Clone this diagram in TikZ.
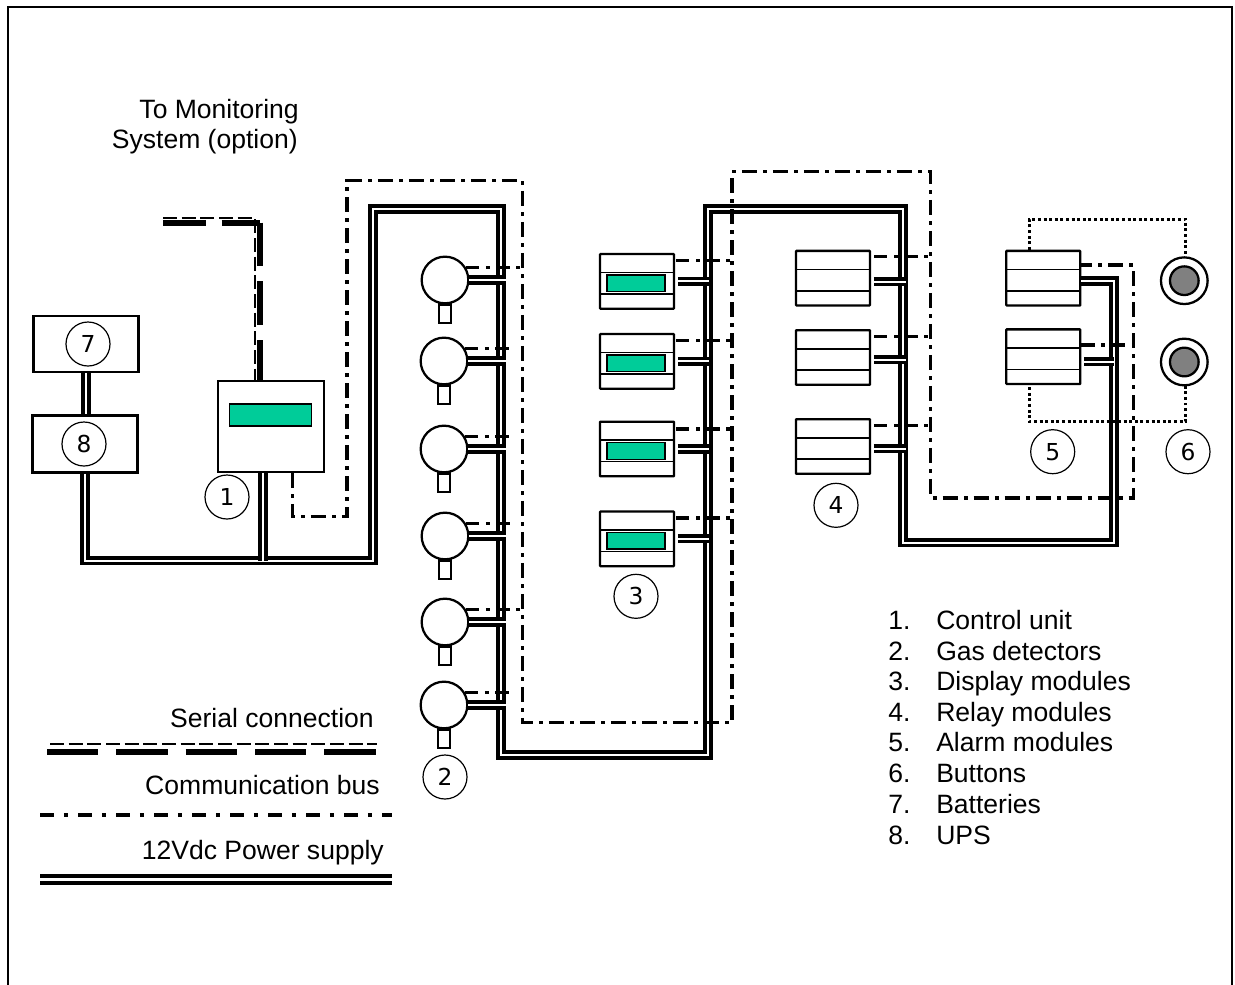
\documentclass[tikz,border=0pt]{standalone}
\usepackage{fontspec}
\setmainfont{Liberation Sans}
\newfontfamily\numfont{DejaVu Sans}
\definecolor{screengreen}{RGB}{0, 204, 153}
\definecolor{buttongray}{RGB}{128, 128, 128}
\usetikzlibrary{positioning, calc}
\tikzset{
	label/.style={inner sep=0pt, font=\fontsize{19.9pt}{24pt}\selectfont},
	leftlabel/.style={label, anchor=base east},
	listlabel/.style={label, anchor=base west},
	numcircle/.style={circle, draw, line width=0.9pt, inner sep=0pt, minimum size=33pt, font=\numfont\fontsize{17.5pt}{20pt}\selectfont},
	powerbox/.style={rectangle, draw, line width=1.9pt, inner sep=0pt, minimum width=79pt, minimum height=42pt},
	unitbox/.style={rectangle, draw, line width=1.7pt, inner sep=0pt, minimum width=79.5pt, minimum height=68pt},
	screen/.style={rectangle, draw, fill=screengreen, line width=1.1pt, inner sep=0pt},
	detector/.style={circle, draw, fill=white, line width=1.7pt, inner sep=0pt, minimum size=35pt},
	stem/.style={rectangle, draw, line width=1.7pt, inner sep=0pt, minimum width=8.5pt, minimum height=14pt},
	modbox/.style={rectangle, rounded corners=0.5pt, draw, fill=white, line width=1.7pt, inner sep=0pt, minimum width=55.5pt, minimum height=41pt,
		path picture={
			\draw[line width=1.2pt] ([yshift=-13.9pt]path picture bounding box.north west) -- ([yshift=-13.9pt]path picture bounding box.north east);
			\draw[line width=1.2pt] ([yshift=-30pt]path picture bounding box.north west) -- ([yshift=-30pt]path picture bounding box.north east);
		}},
	button/.style={circle, draw, line width=1.7pt, inner sep=0pt, minimum size=35pt},
	buttoncore/.style={circle, draw, fill=buttongray, line width=1.7pt, inner sep=0pt, minimum size=21.5pt},
	powerline/.style={line width=2.7pt, double, double distance=1.5pt},
	powerlegend/.style={line width=3.4pt, double, double distance=1.9pt},
	commline/.style={line width=2.6pt, dash pattern=on 11.25pt off 4.6pt on 2.8pt off 4.6pt},
	commstub/.style={line width=2.3pt, dash pattern=on 10pt off 5pt on 2.8pt off 5pt},
	commlegend/.style={line width=2.9pt, dash pattern=on 10.5pt off 7.4pt on 3.4pt off 7.2pt},
	serialthin/.style={line width=1.5pt, dash pattern=on 10.5pt off 3.5pt},
	serialthick/.style={line width=4.5pt, dash pattern=on 32.5pt off 11.5pt},
	seriallegend/.style={line width=4.5pt, dash pattern=on 38.5pt off 13.5pt},
	buttonline/.style={line width=2.2pt, dash pattern=on 2.2pt off 2pt},
}
\begin{document}
\begin{tikzpicture}[x=0.75pt, y=-0.75pt]
	\useasboundingbox (0,0) rectangle (1235,985);
	\coordinate (framea) at (8,985);
	\coordinate (frameb) at (8,7);
	\coordinate (framec) at (1232,7);
	\coordinate (framed) at (1232,985);
	\draw[line width=1.4pt] (framea) -- (frameb) -- (framec) -- (framed);

	\node[leftlabel] (monitora) at (299,118) {To Monitoring};
	\node[leftlabel] (monitorb) at (298,148) {System (option)};

	\node[powerbox] (batteries) at (86,344) {};
	\node[powerbox, minimum height=43pt] (ups) at (85,444) {};
	\node[numcircle] (nbat) at (88,344) {7};
	\node[numcircle] (nups) at (84,444) {8};
	\node[unitbox] (unit) at (271,426.5) {};
	\node[screen, minimum width=61.5pt, minimum height=16.5pt] (unitscreen) at (270.5,415) {};
	\node[numcircle] (nunit) at (227,497) {1};

	\node[detector] (deta) at (445,280) {};
	\node[detector] (detb) at (444,361) {};
	\node[detector] (detc) at (444,449) {};
	\node[detector] (detd) at (445,536) {};
	\node[detector] (dete) at (445,622) {};
	\node[detector] (detf) at (444,705) {};
	\node[stem, below=-0.8pt of deta] (stema) {};
	\node[stem, below=-0.8pt of detb] (stemb) {};
	\node[stem, below=-0.8pt of detc] (stemc) {};
	\node[stem, below=-0.8pt of detd] (stemd) {};
	\node[stem, below=-0.8pt of dete] (steme) {};
	\node[stem, below=-0.8pt of detf] (stemf) {};
	\node[numcircle] (ndet) at (445,777) {2};

	\node[modbox] (dispa) at (637,281.3) {};
	\node[modbox] (dispb) at (637,361.3) {};
	\node[modbox] (dispc) at (637,449) {};
	\node[modbox] (dispd) at (637,538.8) {};
	\node[screen, minimum width=43.5pt, minimum height=12.5pt] (scra) at (636,283.3) {};
	\node[screen, minimum width=43.5pt, minimum height=12.5pt] (scrb) at (636,363.3) {};
	\node[screen, minimum width=43.5pt, minimum height=12.5pt] (scrc) at (636,451) {};
	\node[screen, minimum width=43.5pt, minimum height=12.5pt] (scrd) at (636,540.8) {};
	\node[numcircle] (ndisp) at (636,596.3) {3};

	\node[modbox] (relaya) at (833,278.2) {};
	\node[modbox] (relayb) at (833,357.5) {};
	\node[modbox] (relayc) at (833,446.5) {};
	\node[numcircle] (nrelay) at (836,505.3) {4};

	\node[modbox] (alarma) at (1043.3,278.2) {};
	\node[modbox] (alarmb) at (1043.3,356.7) {};
	\node[numcircle] (nalarm) at (1052.7,451.7) {5};

	\node[button] (buta) at (1184.3,280.7) {};
	\node[button] (butb) at (1184.3,362) {};
	\node[buttoncore] (cora) at (1184.3,280.7) {};
	\node[buttoncore] (corb) at (1184.3,362) {};
	\node[numcircle] (nbut) at (1188,451.7) {6};

	\coordinate (pwra) at (373,560.5);
	\coordinate (pwrb) at (373,209);
	\coordinate (pwrc) at (501,209);
	\coordinate (pwrd) at (501,755);
	\coordinate (pwre) at (708,755);
	\coordinate (pwrf) at (708,209);
	\coordinate (pwrg) at (903,209);
	\coordinate (pwrh) at (903,542.5);
	\coordinate (pwri) at (1114,542.5);
	\coordinate (pwrj) at (1114,281);
	\coordinate (stubdet) at (505.5,0);
	\coordinate (stubdisp) at (709,0);
	\coordinate (stubrelay) at (906,0);

	\draw[powerline] (batteries.south) -- (batteries.south |- ups.north);
	\draw[powerline] (ups.south) |- (pwra) -- (pwrb) -- (pwrc) -- (pwrd) -- (pwre) -- (pwrf) -- (pwrg) -- (pwrh) -- (pwri) -- (pwrj) -- (pwrj -| alarma.east);
	\draw[powerline] ([xshift=-6pt]unit.south) -- ([xshift=-6pt]unit.south |- pwra);

	\draw[powerline] (deta.east) -- (deta.east -| stubdet);
	\draw[powerline] (detb.east) -- (detb.east -| stubdet);
	\draw[powerline] (detc.east) -- (detc.east -| stubdet);
	\draw[powerline] (detd.east) -- (detd.east -| stubdet);
	\draw[powerline] (dete.east) -- (dete.east -| stubdet);
	\draw[powerline] (detf.east) -- (detf.east -| stubdet);
	\draw[powerline] ([xshift=2pt]dispa.east) -- (dispa.east -| stubdisp);
	\draw[powerline] ([xshift=2pt]dispb.east) -- (dispb.east -| stubdisp);
	\draw[powerline] ([xshift=2pt]dispc.east) -- (dispc.east -| stubdisp);
	\draw[powerline] ([xshift=2pt]dispd.east) -- (dispd.east -| stubdisp);
	\draw[powerline] ([xshift=2pt,yshift=-2.5pt]relaya.east) -- ([yshift=-2.5pt]relaya.east -| stubrelay);
	\draw[powerline] ([xshift=2pt,yshift=-1.7pt]relayb.east) -- ([yshift=-1.7pt]relayb.east -| stubrelay);
	\draw[powerline] ([xshift=2pt,yshift=-1.7pt]relayc.east) -- ([yshift=-1.7pt]relayc.east -| stubrelay);
	\draw[powerline] ([xshift=2pt,yshift=-3.8pt]alarmb.east) -- ([yshift=-3.8pt]alarmb.east -| pwrj);

	\coordinate (busa) at (292.7,516.7);
	\coordinate (busb) at (347,516.7);
	\coordinate (busc) at (347,180.7);
	\coordinate (busd) at (522.7,180.7);
	\coordinate (buse) at (522.7,722.7);
	\coordinate (busf) at (732,722.7);
	\coordinate (busg) at (732,171.7);
	\coordinate (bush) at (930.7,171.7);
	\coordinate (busi) at (930.7,498);
	\coordinate (busj) at (1133.3,498);
	\coordinate (busk) at (1133.3,265);
	\coordinate (shortdet) at (512.5,0);
	\coordinate (startdisp) at (676,0);
	\coordinate (startrelay) at (874,0);

	\draw[commline] (unit.south -| busa) -- (busa) -- (busb) -- (busc) -- (busd) -- (buse) -- (busf) -- (busg) -- (bush) -- (busi) -- (busj) -- (busk) -- (busk -| alarma.east);

	\draw[commstub] (deta.31) -- (deta.31 -| buse);
	\draw[commstub] (detb.31) -- (detb.31 -| shortdet);
	\draw[commstub] (detc.31) -- (detc.31 -| shortdet);
	\draw[commstub] (detd.31) -- (detd.31 -| shortdet);
	\draw[commstub] (dete.31) -- (dete.31 -| buse);
	\draw[commstub] (detf.31) -- (detf.31 -| shortdet);
	\draw[commstub] ([yshift=15.8pt]dispa.east -| startdisp) -- ([yshift=15.8pt]dispa.east -| busf);
	\draw[commstub] ([yshift=15.5pt]dispb.east -| startdisp) -- ([yshift=15.5pt]dispb.east -| busf);
	\draw[commstub] ([yshift=15pt]dispc.east -| startdisp) -- ([yshift=15pt]dispc.east -| busf);
	\draw[commstub] ([yshift=15.6pt]dispd.east -| startdisp) -- ([yshift=15.6pt]dispd.east -| busf);
	\draw[commstub] ([yshift=16.1pt]relaya.east -| startrelay) -- ([yshift=16.1pt]relaya.east -| busi);
	\draw[commstub] ([yshift=15.9pt]relayb.east -| startrelay) -- ([yshift=15.9pt]relayb.east -| busi);
	\draw[commstub] ([yshift=15.6pt]relayc.east -| startrelay) -- ([yshift=15.6pt]relayc.east -| busi);
	\draw[commstub] ([yshift=8.8pt]alarmb.east) -- ([yshift=8.8pt]alarmb.east -| busk);

	\coordinate (serthina) at (163,217.7);
	\coordinate (serthinb) at (254.7,217.7);
	\coordinate (serthicka) at (163,222.7);
	\coordinate (serthickb) at (260,222.7);
	\draw[serialthin] (serthina) -- (serthinb) -- (serthinb |- unit.north);
	\draw[serialthick] (serthicka) -- (serthickb);
	\draw[serialthick] (serthickb) -- (serthickb |- unit.north);

	\coordinate (dota) at (1029.3,219.3);
	\coordinate (dotb) at (1185.7,219.3);
	\coordinate (dotc) at (1029.3,421.7);
	\coordinate (dotd) at (1185.7,421.7);
	\draw[buttonline] (dota |- alarma.north) -- (dota) -- (dotb) -- (dotb |- buta.north);
	\draw[buttonline] ([yshift=-1.5pt]dotc |- alarmb.south) -- (dotc) -- (dotd) -- (dotd |- butb.south);

	\node[leftlabel] (lserial) at (374,727) {Serial connection};
	\node[leftlabel] (lcomm) at (380,794) {Communication bus};
	\node[leftlabel] (lpower) at (384,859) {12Vdc Power supply};
	\coordinate (legthina) at (50,744.3);
	\coordinate (legthinb) at (377,744.3);
	\coordinate (legthicka) at (47,751.7);
	\coordinate (legthickb) at (377,751.7);
	\coordinate (legcomma) at (40,815);
	\coordinate (legcommb) at (392,815);
	\coordinate (legpowera) at (40,879.5);
	\coordinate (legpowerb) at (392,879.5);
	\draw[serialthin] (legthina) -- (legthinb);
	\draw[seriallegend] (legthicka) -- (legthickb);
	\draw[commlegend] (legcomma) -- (legcommb);
	\draw[powerlegend] (legpowera) -- (legpowerb);

	\node[listlabel] (itema) at (888,629) {\makebox[36pt][l]{1.}Control unit};
	\node[listlabel] (itemb) at (888,660) {\makebox[36pt][l]{2.}Gas detectors};
	\node[listlabel] (itemc) at (888,690) {\makebox[36pt][l]{3.}Display modules};
	\node[listlabel] (itemd) at (888,721) {\makebox[36pt][l]{4.}Relay modules};
	\node[listlabel] (iteme) at (888,751) {\makebox[36pt][l]{5.}Alarm modules};
	\node[listlabel] (itemf) at (888,782) {\makebox[36pt][l]{6.}Buttons};
	\node[listlabel] (itemg) at (888,813) {\makebox[36pt][l]{7.}Batteries};
	\node[listlabel] (itemh) at (888,844) {\makebox[36pt][l]{8.}UPS};
\end{tikzpicture}
\end{document}
